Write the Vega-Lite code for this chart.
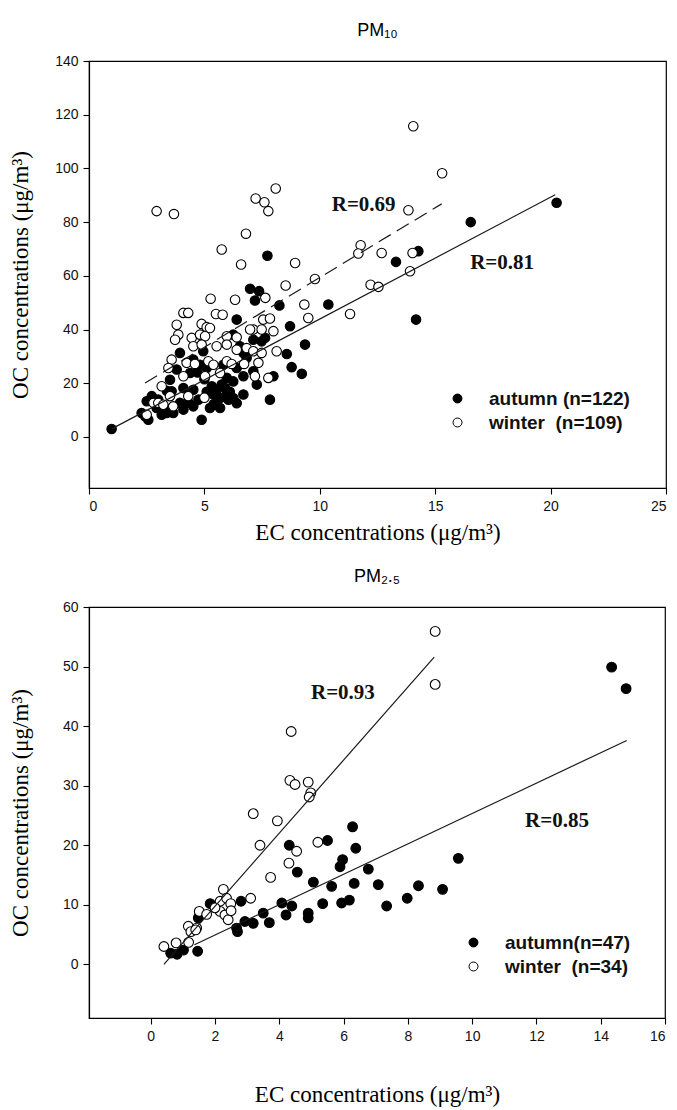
{
  "$schema": "https://vega.github.io/schema/vega-lite/v6.json",
  "background": "white",
  "padding": {"left": 8, "top": 21, "right": 4, "bottom": 4},
  "spacing": 22,
  "config": {
    "view": {"stroke": "black", "strokeWidth": 1.2},
    "axis": {"domainColor": "black", "domainWidth": 1.2, "tickColor": "black", "tickWidth": 1.1, "tickSize": 6, "labelColor": "#111", "labelFont": "Liberation Sans", "labelFontSize": 14, "labelPadding": 5, "titleFont": "Liberation Serif", "titleFontSize": 23, "titleFontWeight": "normal", "titleColor": "black", "grid": false},
    "title": {"font": "Liberation Sans", "fontSize": 18, "fontWeight": "normal", "color": "black", "offset": 14}
  },
  "resolve": {"scale": {"x": "independent", "y": "independent", "color": "independent"}, "legend": {"color": "independent"}},
  "datasets": {
    "pm10": [
      {"season":"autumn","ec":7.73,"oc":67.5},{"season":"autumn","ec":6.98,"oc":55.2},{"season":"autumn","ec":7.37,"oc":54.3},{"season":"autumn","ec":7.19,"oc":50.8},{"season":"autumn","ec":8.25,"oc":49},{"season":"autumn","ec":10.37,"oc":49.3},{"season":"autumn","ec":14.27,"oc":69.2},{"season":"autumn","ec":13.3,"oc":65.2},{"season":"autumn","ec":16.54,"oc":80},{"season":"autumn","ec":20.26,"oc":87.2},{"season":"autumn","ec":14.17,"oc":43.7},
      {"season":"autumn","ec":6.4,"oc":43.7},{"season":"autumn","ec":8.71,"oc":41.2},{"season":"autumn","ec":9.36,"oc":34.4},{"season":"autumn","ec":8.57,"oc":30.9},{"season":"autumn","ec":8.78,"oc":26},{"season":"autumn","ec":9.22,"oc":23.5},{"season":"autumn","ec":6.25,"oc":38.1},{"season":"autumn","ec":7.12,"oc":36.2},{"season":"autumn","ec":7.48,"oc":35.6},{"season":"autumn","ec":7.63,"oc":36.9},{"season":"autumn","ec":6.54,"oc":33.8},{"season":"autumn","ec":6.69,"oc":31.3},{"season":"autumn","ec":4.95,"oc":31.9},{"season":"autumn","ec":3.94,"oc":31.3},{"season":"autumn","ec":4.52,"oc":28.8},{"season":"autumn","ec":4.81,"oc":26.9},{"season":"autumn","ec":5.82,"oc":26.9},{"season":"autumn","ec":6.4,"oc":25.7},{"season":"autumn","ec":6.69,"oc":22.6},{"season":"autumn","ec":7.27,"oc":19.5},{"season":"autumn","ec":7.99,"oc":22.6},{"season":"autumn","ec":3.8,"oc":25.1},{"season":"autumn","ec":3.51,"oc":21.3},{"season":"autumn","ec":4.38,"oc":23.8},{"season":"autumn","ec":5.32,"oc":18.9},{"season":"autumn","ec":5.53,"oc":17.6},{"season":"autumn","ec":5.75,"oc":19.5},{"season":"autumn","ec":5.97,"oc":16.4},{"season":"autumn","ec":5.39,"oc":15.8},{"season":"autumn","ec":5.68,"oc":14.5},{"season":"autumn","ec":6.04,"oc":13.9},{"season":"autumn","ec":6.25,"oc":14.5},{"season":"autumn","ec":6.69,"oc":15.8},{"season":"autumn","ec":7.84,"oc":13.9},{"season":"autumn","ec":4.74,"oc":13.9},{"season":"autumn","ec":4.52,"oc":11.4},{"season":"autumn","ec":5.24,"oc":10.8},{"season":"autumn","ec":5.68,"oc":10.8},{"season":"autumn","ec":4.88,"oc":6.4},{"season":"autumn","ec":3.94,"oc":12.7},{"season":"autumn","ec":4.09,"oc":10.2},{"season":"autumn","ec":3.44,"oc":10.2},{"season":"autumn","ec":3.65,"oc":8.9},{"season":"autumn","ec":2.93,"oc":10.8},{"season":"autumn","ec":3.15,"oc":8.3},{"season":"autumn","ec":3.37,"oc":8.9},{"season":"autumn","ec":2.5,"oc":13.3},{"season":"autumn","ec":2.72,"oc":15.2},{"season":"autumn","ec":2.28,"oc":8.9},{"season":"autumn","ec":2.43,"oc":7.7},{"season":"autumn","ec":2.57,"oc":6.4},{"season":"autumn","ec":0.98,"oc":3.0},{"season":"autumn","ec":4.09,"oc":18.2},{"season":"autumn","ec":3.58,"oc":17},{"season":"autumn","ec":3.37,"oc":17.2},{"season":"autumn","ec":4.52,"oc":17.6},{"season":"autumn","ec":3.0,"oc":13.9},{"season":"autumn","ec":6.83,"oc":29.4},{"season":"autumn","ec":7.12,"oc":24.5},{"season":"autumn","ec":5.97,"oc":22},{"season":"autumn","ec":6.25,"oc":20.7},{"season":"autumn","ec":5.1,"oc":25.7},{"season":"autumn","ec":5.1,"oc":16.8},{"season":"autumn","ec":5.9,"oc":18.2},{"season":"autumn","ec":6.1,"oc":16.8},{"season":"autumn","ec":5.4,"oc":12.2},{"season":"autumn","ec":6.4,"oc":12.6},{"season":"autumn","ec":4.3,"oc":12.8},{"season":"autumn","ec":5.0,"oc":21.5},{"season":"autumn","ec":4.7,"oc":24.0},
      {"season":"winter","ec":2.93,"oc":84.1},{"season":"winter","ec":3.68,"oc":83.0},{"season":"winter","ec":7.22,"oc":88.8},{"season":"winter","ec":7.6,"oc":87.4},{"season":"winter","ec":7.77,"oc":84.1},{"season":"winter","ec":8.09,"oc":92.5},{"season":"winter","ec":6.8,"oc":75.7},{"season":"winter","ec":5.75,"oc":69.8},{"season":"winter","ec":6.59,"oc":64.2},{"season":"winter","ec":8.93,"oc":64.8},{"season":"winter","ec":8.52,"oc":56.4},{"season":"winter","ec":9.79,"oc":58.8},{"season":"winter","ec":11.77,"oc":71.4},{"season":"winter","ec":11.67,"oc":68.3},{"season":"winter","ec":5.27,"oc":51.5},{"season":"winter","ec":6.33,"oc":51.1},{"season":"winter","ec":7.64,"oc":51.8},{"season":"winter","ec":9.33,"oc":49.3},{"season":"winter","ec":14.05,"oc":115.7},{"season":"winter","ec":15.3,"oc":98.2},{"season":"winter","ec":13.84,"oc":84.4},{"season":"winter","ec":12.68,"oc":68.5},{"season":"winter","ec":14.02,"oc":68.5},{"season":"winter","ec":12.2,"oc":56.7},{"season":"winter","ec":12.54,"oc":55.9},{"season":"winter","ec":13.91,"oc":61.7},{"season":"winter","ec":11.31,"oc":45.8},
      {"season":"winter","ec":4.09,"oc":46.2},{"season":"winter","ec":4.3,"oc":46.2},{"season":"winter","ec":5.5,"oc":45.8},{"season":"winter","ec":5.79,"oc":45.5},{"season":"winter","ec":3.8,"oc":41.8},{"season":"winter","ec":4.88,"oc":42.1},{"season":"winter","ec":5.1,"oc":40.9},{"season":"winter","ec":5.24,"oc":40.6},{"season":"winter","ec":3.87,"oc":38.1},{"season":"winter","ec":3.73,"oc":36.2},{"season":"winter","ec":4.45,"oc":36.9},{"season":"winter","ec":4.81,"oc":38.1},{"season":"winter","ec":5.03,"oc":37.5},{"season":"winter","ec":5.97,"oc":37.5},{"season":"winter","ec":6.4,"oc":37.1},{"season":"winter","ec":7.12,"oc":40},{"season":"winter","ec":7.48,"oc":40},{"season":"winter","ec":7.55,"oc":43.7},{"season":"winter","ec":7.84,"oc":44.1},{"season":"winter","ec":9.5,"oc":44.3},{"season":"winter","ec":7.99,"oc":39.4},{"season":"winter","ec":6.98,"oc":40},{"season":"winter","ec":4.52,"oc":33.8},{"season":"winter","ec":4.88,"oc":34.4},{"season":"winter","ec":5.53,"oc":33.8},{"season":"winter","ec":5.97,"oc":34.4},{"season":"winter","ec":6.4,"oc":32.5},{"season":"winter","ec":6.83,"oc":33.1},{"season":"winter","ec":7.12,"oc":31.9},{"season":"winter","ec":7.48,"oc":31.3},{"season":"winter","ec":8.13,"oc":31.9},{"season":"winter","ec":3.58,"oc":28.8},{"season":"winter","ec":3.44,"oc":25.7},{"season":"winter","ec":4.23,"oc":27.6},{"season":"winter","ec":4.59,"oc":27.2},{"season":"winter","ec":5.17,"oc":28.2},{"season":"winter","ec":5.39,"oc":26.9},{"season":"winter","ec":5.97,"oc":28.2},{"season":"winter","ec":6.18,"oc":27.2},{"season":"winter","ec":6.72,"oc":27.2},{"season":"winter","ec":7.34,"oc":27.6},{"season":"winter","ec":4.09,"oc":22.6},{"season":"winter","ec":5.03,"oc":22.6},{"season":"winter","ec":5.68,"oc":23.8},{"season":"winter","ec":7.19,"oc":22.6},{"season":"winter","ec":7.77,"oc":22},{"season":"winter","ec":3.15,"oc":18.9},{"season":"winter","ec":3.51,"oc":15.2},{"season":"winter","ec":2.79,"oc":12.7},{"season":"winter","ec":3.0,"oc":12.7},{"season":"winter","ec":3.22,"oc":12},{"season":"winter","ec":2.5,"oc":8.3},{"season":"winter","ec":3.65,"oc":11.4},{"season":"winter","ec":4.3,"oc":15.2},{"season":"winter","ec":5.0,"oc":14.6}
    ],
    "fit10a": [
      {"fit":"autumn","ec":1.0,"oc":3.1},{"fit":"autumn","ec":20.2,"oc":90.2}
    ],
    "fit10w": [
      {"fit":"winter","ec":2.43,"oc":20.1},{"fit":"winter","ec":15.28,"oc":86.8}
    ],
    "r10": [
      {"label":"R=0.69","ec":11.9,"oc":86.4},{"label":"R=0.81","ec":17.9,"oc":64.8}
    ],
    "pm25": [
      {"period":"autumn","ec":6.28,"oc":23.1},{"period":"autumn","ec":5.5,"oc":20.8},{"period":"autumn","ec":4.31,"oc":20},{"period":"autumn","ec":6.38,"oc":19.5},{"period":"autumn","ec":5.97,"oc":17.6},{"period":"autumn","ec":5.89,"oc":16.4},{"period":"autumn","ec":4.56,"oc":15.5},{"period":"autumn","ec":6.77,"oc":16},{"period":"autumn","ec":5.06,"oc":13.8},{"period":"autumn","ec":5.63,"oc":13.1},{"period":"autumn","ec":6.33,"oc":13.6},{"period":"autumn","ec":7.08,"oc":13.4},{"period":"autumn","ec":5.35,"oc":10.2},{"period":"autumn","ec":5.94,"oc":10.3},{"period":"autumn","ec":6.18,"oc":10.8},{"period":"autumn","ec":4.08,"oc":10.3},{"period":"autumn","ec":4.39,"oc":9.8},{"period":"autumn","ec":4.21,"oc":8.3},{"period":"autumn","ec":4.9,"oc":8.6},{"period":"autumn","ec":4.9,"oc":7.8},{"period":"autumn","ec":3.5,"oc":8.6},{"period":"autumn","ec":3.69,"oc":7.0},{"period":"autumn","ec":2.81,"oc":10.6},{"period":"autumn","ec":1.85,"oc":10.2},{"period":"autumn","ec":1.48,"oc":7.8},{"period":"autumn","ec":2.93,"oc":7.2},{"period":"autumn","ec":3.19,"oc":6.9},{"period":"autumn","ec":2.67,"oc":6.1},{"period":"autumn","ec":9.57,"oc":17.8},{"period":"autumn","ec":8.33,"oc":13.2},{"period":"autumn","ec":9.08,"oc":12.6},{"period":"autumn","ec":7.98,"oc":11.1},{"period":"autumn","ec":7.34,"oc":9.8},{"period":"autumn","ec":14.34,"oc":49.9},{"period":"autumn","ec":14.79,"oc":46.3},{"period":"autumn","ec":0.62,"oc":1.9},{"period":"autumn","ec":0.82,"oc":1.7},{"period":"autumn","ec":1.02,"oc":2.4},{"period":"autumn","ec":1.46,"oc":2.2},{"period":"autumn","ec":2.7,"oc":5.5},
      {"period":"winter","ec":8.85,"oc":55.9},{"period":"winter","ec":8.85,"oc":47.0},{"period":"winter","ec":4.37,"oc":39.1},{"period":"winter","ec":4.33,"oc":30.9},{"period":"winter","ec":4.49,"oc":30.2},{"period":"winter","ec":4.9,"oc":30.6},{"period":"winter","ec":4.98,"oc":28.8},{"period":"winter","ec":4.93,"oc":28.1},{"period":"winter","ec":3.19,"oc":25.3},{"period":"winter","ec":3.94,"oc":24.1},{"period":"winter","ec":3.4,"oc":20.0},{"period":"winter","ec":5.2,"oc":20.5},{"period":"winter","ec":4.54,"oc":19.0},{"period":"winter","ec":4.3,"oc":17.0},{"period":"winter","ec":3.73,"oc":14.6},{"period":"winter","ec":2.26,"oc":12.6},{"period":"winter","ec":2.16,"oc":10.6},{"period":"winter","ec":2.36,"oc":11.1},{"period":"winter","ec":2.49,"oc":10.2},{"period":"winter","ec":3.11,"oc":11.1},{"period":"winter","ec":2.16,"oc":8.9},{"period":"winter","ec":2.31,"oc":8.3},{"period":"winter","ec":2.41,"oc":7.5},{"period":"winter","ec":1.51,"oc":8.9},{"period":"winter","ec":1.74,"oc":8.4},{"period":"winter","ec":1.17,"oc":6.4},{"period":"winter","ec":1.43,"oc":6.1},{"period":"winter","ec":0.41,"oc":3.0},{"period":"winter","ec":0.79,"oc":3.6},{"period":"winter","ec":1.18,"oc":3.7},{"period":"winter","ec":1.25,"oc":5.5},{"period":"winter","ec":1.4,"oc":5.8},{"period":"winter","ec":2.0,"oc":9.5},{"period":"winter","ec":2.5,"oc":9.0}
    ],
    "fit25": [
      {"fit":"autumn","ec":1.36,"oc":3.3},{"fit":"autumn","ec":14.81,"oc":37.6},
      {"fit":"winter","ec":0.41,"oc":0.0},{"fit":"winter","ec":8.82,"oc":51.6}
    ],
    "r25": [
      {"label":"R=0.93","ec":5.98,"oc":45.6},{"label":"R=0.85","ec":12.64,"oc":24.0}
    ]
  },
  "vconcat": [
    {
      "title": {"text": "PM₁₀"},
      "width": 577,
      "height": 427,
      "layer": [
        {
          "data": {"name": "pm10"},
          "mark": {"type": "point", "shape": "circle", "filled": true, "size": 90, "stroke": "black", "strokeWidth": 1.1, "opacity": 1},
          "encoding": {
            "x": {"field": "ec", "type": "quantitative", "scale": {"domain": [0, 25], "nice": false, "zero": false}, "axis": {"values": [0, 5, 10, 15, 20, 25], "title": "EC concentrations (μg/m³)", "titlePadding": 8}},
            "y": {"field": "oc", "type": "quantitative", "scale": {"domain": [-19, 140], "nice": false, "zero": false}, "axis": {"values": [0, 20, 40, 60, 80, 100, 120, 140], "title": "OC concentrations (μg/m³)", "titlePadding": 22}},
            "color": {"field": "season", "type": "nominal", "scale": {"domain": ["autumn", "winter"], "range": ["black", "white"]},
              "legend": {"orient": "none", "legendX": 359, "legendY": 328, "title": null, "padding": 0, "symbolType": "circle", "symbolSize": 80, "symbolStrokeColor": "black", "symbolStrokeWidth": 1, "labelFont": "Liberation Sans", "labelFontWeight": "bold", "labelFontSize": 19, "labelColor": "#111", "labelOffset": 22, "rowPadding": 4, "labelExpr": "datum.label == 'autumn' ? 'autumn (n=122)' : 'winter\u00a0 (n=109)'"}}
          }
        },
        {
          "data": {"name": "fit10a"},
          "mark": {"type": "line", "color": "#1a1a1a", "strokeWidth": 1.2},
          "encoding": {
            "x": {"field": "ec", "type": "quantitative"},
            "y": {"field": "oc", "type": "quantitative"}
          }
        },
        {
          "data": {"name": "fit10w"},
          "mark": {"type": "line", "color": "#1a1a1a", "strokeWidth": 1.2, "strokeDash": [14, 7]},
          "encoding": {
            "x": {"field": "ec", "type": "quantitative"},
            "y": {"field": "oc", "type": "quantitative"}
          }
        },
        {
          "data": {"name": "r10"},
          "mark": {"type": "text", "font": "Liberation Serif", "fontWeight": "bold", "fontSize": 21, "color": "#111", "align": "center", "baseline": "middle"},
          "encoding": {
            "x": {"field": "ec", "type": "quantitative"},
            "y": {"field": "oc", "type": "quantitative"},
            "text": {"field": "label"}
          }
        }
      ]
    },
    {
      "title": {"text": "PM₂.₅"},
      "width": 576,
      "height": 411,
      "layer": [
        {
          "data": {"name": "pm25"},
          "mark": {"type": "point", "shape": "circle", "filled": true, "size": 95, "stroke": "black", "strokeWidth": 1.1, "opacity": 1},
          "encoding": {
            "x": {"field": "ec", "type": "quantitative", "scale": {"domain": [-1.92, 16], "nice": false, "zero": false}, "axis": {"values": [0, 2, 4, 6, 8, 10, 12, 14, 16], "title": "EC concentrations (μg/m³)", "titlePadding": 40}},
            "y": {"field": "oc", "type": "quantitative", "scale": {"domain": [-9, 60], "nice": false, "zero": false}, "axis": {"values": [0, 10, 20, 30, 40, 50, 60], "title": "OC concentrations (μg/m³)", "titlePadding": 30}},
            "color": {"field": "period", "type": "nominal", "scale": {"domain": ["autumn", "winter"], "range": ["black", "white"]},
              "legend": {"orient": "none", "legendX": 375, "legendY": 326, "title": null, "padding": 0, "symbolType": "circle", "symbolSize": 80, "symbolStrokeColor": "black", "symbolStrokeWidth": 1, "labelFont": "Liberation Sans", "labelFontWeight": "bold", "labelFontSize": 19, "labelColor": "#111", "labelOffset": 22, "rowPadding": 4, "labelExpr": "datum.label == 'autumn' ? 'autumn(n=47)' : 'winter\u00a0 (n=34)'"}}
          }
        },
        {
          "data": {"name": "fit25"},
          "mark": {"type": "line", "color": "#1a1a1a", "strokeWidth": 1.2},
          "encoding": {
            "x": {"field": "ec", "type": "quantitative"},
            "y": {"field": "oc", "type": "quantitative"},
            "detail": {"field": "fit"}
          }
        },
        {
          "data": {"name": "r25"},
          "mark": {"type": "text", "font": "Liberation Serif", "fontWeight": "bold", "fontSize": 21, "color": "#111", "align": "center", "baseline": "middle"},
          "encoding": {
            "x": {"field": "ec", "type": "quantitative"},
            "y": {"field": "oc", "type": "quantitative"},
            "text": {"field": "label"}
          }
        }
      ]
    }
  ]
}
